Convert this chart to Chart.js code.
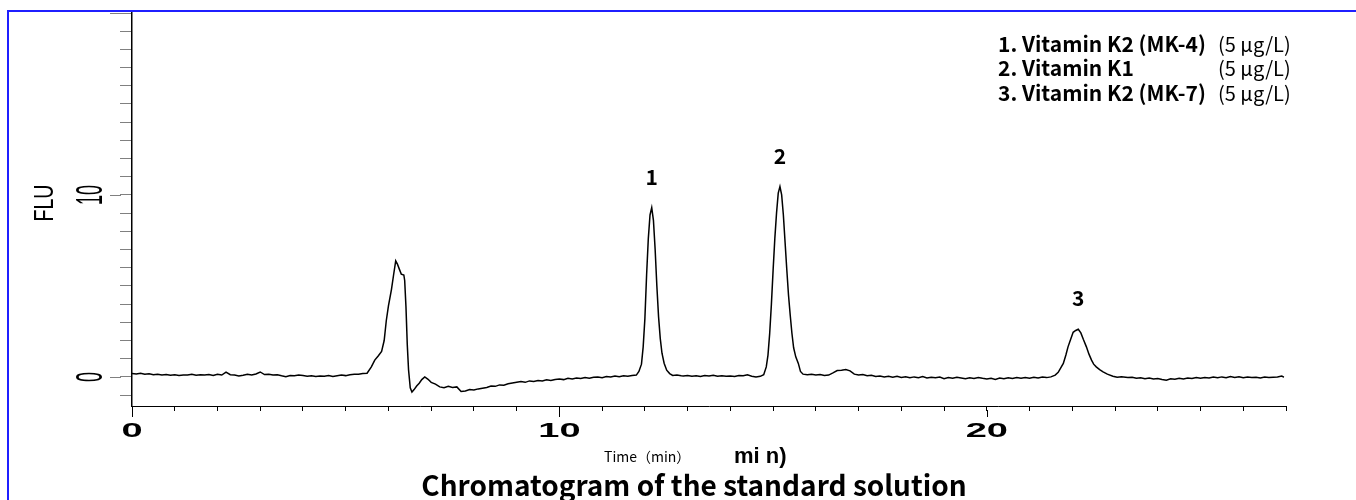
<!DOCTYPE html>
<html>
<head>
<meta charset="utf-8">
<script src="https://cdn.jsdelivr.net/npm/chart.js@4.4.1/dist/chart.umd.min.js"></script>
<style>
  html, body { margin: 0; padding: 0; background: #fff; }
  #wrap { position: relative; width: 1356px; height: 500px; overflow: hidden; }
  #frame { position: absolute; left: 7px; top: 10px; width: 1400px; height: 600px;
           border-left: 2px solid #1f1fff; border-top: 2px solid #1f1fff; }
  canvas { position: absolute; left: 0; top: 0; }
</style>
</head>
<body>
<div id="wrap">
  <div id="frame"></div>
  <canvas id="chromChart" width="1356" height="500"></canvas>
</div>
<script>
// retention time (min)
const times = [
  0.0, 0.1, 0.2, 0.3, 0.4, 0.5, 0.6, 0.7, 0.8, 0.9, 1.0, 1.1, 1.2, 1.3, 1.4, 1.5, 1.6, 1.7, 1.8, 1.9,
  2.0, 2.1, 2.2, 2.3, 2.4, 2.5, 2.6, 2.7, 2.8, 2.9, 3.0, 3.1, 3.2, 3.3, 3.4, 3.5, 3.6, 3.7, 3.8, 3.9,
  4.0, 4.1, 4.2, 4.3, 4.4, 4.5, 4.6, 4.7, 4.8, 4.9, 5.0, 5.1, 5.2, 5.3, 5.4, 5.5,
  5.6, 5.68, 5.76, 5.84, 5.9, 5.95, 6.0, 6.07, 6.12, 6.17, 6.21, 6.25, 6.3, 6.36, 6.38, 6.41, 6.44, 6.47,
  6.51, 6.55, 6.6, 6.66, 6.72, 6.78, 6.85, 6.92, 7.0, 7.1, 7.2, 7.3, 7.4, 7.5, 7.6, 7.7, 7.8, 7.9,
  8.0, 8.1, 8.2, 8.3, 8.4, 8.5, 8.6, 8.7, 8.8, 8.9, 9.0, 9.1, 9.2, 9.3, 9.4, 9.5, 9.6, 9.7, 9.8, 9.9,
  10.0, 10.1, 10.2, 10.3, 10.4, 10.5, 10.6, 10.7, 10.8, 10.9, 11.0, 11.1, 11.2, 11.3, 11.4, 11.5, 11.6, 11.7, 11.8, 11.86,
  11.92, 11.96, 12.0, 12.04, 12.08, 12.12, 12.16, 12.2, 12.24, 12.28, 12.32, 12.36, 12.4, 12.45, 12.51, 12.58, 12.65, 12.75, 12.85,
  12.9, 13.0, 13.1, 13.2, 13.3, 13.4, 13.5, 13.6, 13.7, 13.8, 13.9, 14.0, 14.1, 14.2, 14.3, 14.4, 14.5, 14.6, 14.7, 14.78,
  14.84, 14.88, 14.92, 14.96, 15.0, 15.04, 15.08, 15.12, 15.16, 15.2, 15.24, 15.28, 15.32, 15.36, 15.4, 15.44, 15.48, 15.53, 15.59, 15.64, 15.7,
  15.8, 15.9, 16.0, 16.1, 16.2, 16.3, 16.4, 16.5, 16.6, 16.7, 16.8, 16.9, 17.0, 17.1, 17.2, 17.3, 17.4, 17.5, 17.6, 17.7, 17.8, 17.9,
  18.0, 18.1, 18.2, 18.3, 18.4, 18.5, 18.6, 18.7, 18.8, 18.9, 19.0, 19.1, 19.2, 19.3, 19.4, 19.5, 19.6, 19.7, 19.8, 19.9,
  20.0, 20.1, 20.2, 20.3, 20.4, 20.5, 20.6, 20.7, 20.8, 20.9, 21.0, 21.1, 21.2, 21.3, 21.4, 21.5, 21.6, 21.67,
  21.73, 21.79, 21.85, 21.9, 21.96, 22.02, 22.08, 22.14, 22.2, 22.26, 22.33, 22.39, 22.45, 22.5, 22.56, 22.64, 22.72, 22.82, 22.95,
  23.05, 23.15, 23.3, 23.4, 23.5, 23.6, 23.7, 23.8, 23.9, 24.0, 24.1, 24.2, 24.3, 24.4, 24.5, 24.6, 24.7, 24.8, 24.9,
  25.0, 25.1, 25.2, 25.3, 25.4, 25.5, 25.6, 25.7, 25.8, 25.9, 26.0, 26.1, 26.2, 26.3, 26.4, 26.5, 26.6, 26.7, 26.8, 26.9, 26.95
];

// fluorescence signal (FLU)
const flu = [
  0.18, 0.16, 0.20, 0.14, 0.17, 0.12, 0.15, 0.10, 0.13, 0.09, 0.12, 0.08, 0.11, 0.10, 0.14, 0.09, 0.12, 0.10, 0.13, 0.08,
  0.15, 0.10, 0.26, 0.12, 0.10, 0.05, 0.09, 0.14, 0.10, 0.16, 0.27, 0.13, 0.15, 0.10, 0.12, 0.06, 0.01, 0.08, 0.06, 0.10,
  0.07, 0.04, 0.06, 0.02, 0.05, 0.03, 0.07, 0.02, 0.06, 0.10, 0.07, 0.12, 0.15, 0.14, 0.18, 0.20,
  0.55, 0.92, 1.15, 1.40, 2.00, 3.10, 3.90, 4.80, 5.60, 6.38, 6.20, 5.95, 5.65, 5.60, 5.30, 3.85, 1.80, 0.40,
  -0.60, -0.83, -0.70, -0.50, -0.35, -0.15, 0.00, -0.12, -0.30, -0.40, -0.55, -0.60, -0.52, -0.58, -0.55, -0.80, -0.78, -0.70,
  -0.72, -0.66, -0.62, -0.58, -0.50, -0.52, -0.44, -0.46, -0.38, -0.34, -0.30, -0.26, -0.30, -0.22, -0.25, -0.20, -0.22, -0.16, -0.20, -0.14,
  -0.12, -0.15, -0.08, -0.11, -0.06, -0.09, -0.04, -0.07, -0.02, 0.00, -0.04, 0.02, 0.00, 0.05, 0.01, 0.06, 0.03, 0.08, 0.10, 0.30,
  0.70, 1.65, 3.20, 5.60, 7.60, 8.90, 9.30, 8.60, 7.00, 5.00, 3.30, 2.10, 1.30, 0.75, 0.37, 0.18, 0.08, 0.10, 0.06,
  0.05, 0.08, 0.04, 0.06, 0.02, 0.07, 0.05, 0.09, 0.04, 0.06, 0.03, 0.05, 0.02, 0.08, 0.06, 0.11, 0.04, -0.01, 0.03, 0.12,
  0.55, 1.20, 2.39, 4.00, 5.87, 7.60, 9.00, 10.10, 10.46, 10.00, 8.90, 7.40, 5.90, 4.50, 3.40, 2.40, 1.60, 1.10, 0.74, 0.30, 0.15,
  0.12, 0.14, 0.10, 0.13, 0.08, 0.10, 0.22, 0.35, 0.37, 0.40, 0.33, 0.15, 0.10, 0.13, 0.06, 0.09, 0.02, 0.05, 0.00, 0.04, -0.02, 0.03,
  -0.03, 0.01, -0.05, 0.00, -0.04, 0.02, -0.06, -0.02, -0.05, -0.01, -0.10, -0.04, -0.08, -0.02, -0.06, -0.10, -0.05, -0.09, -0.03, -0.08,
  -0.12, -0.07, -0.14, -0.06, -0.10, -0.05, -0.09, -0.04, -0.08, -0.03, -0.07, -0.02, -0.06, -0.01, -0.04, 0.00, 0.10, 0.25,
  0.50, 0.74, 1.20, 1.65, 2.05, 2.45, 2.55, 2.62, 2.42, 2.05, 1.65, 1.25, 0.92, 0.70, 0.55, 0.40, 0.28, 0.15, 0.04,
  -0.02, 0.01, -0.04, -0.02, -0.08, -0.05, -0.10, -0.06, -0.12, -0.09, -0.14, -0.18, -0.10, -0.13, -0.08, -0.11, -0.06, -0.09, -0.04,
  -0.08, -0.03, -0.06, -0.01, -0.05, 0.00, -0.04, 0.02, -0.03, 0.01, -0.05, -0.01, -0.04, -0.02, -0.06, -0.01, -0.04, -0.02, 0.00, 0.05, -0.02
];

const xTicks = [0, 1, 2, 3, 4, 5, 6, 7, 8, 9, 10, 11, 12, 13, 14, 15, 16, 17, 18, 19, 20, 21, 22, 23, 24, 25, 26, 27];
const xLabels = [0, 10, 20];
const yTicks = [-1, 0, 1, 2, 3, 4, 5, 6, 7, 8, 9, 10, 11, 12, 13, 14, 15, 16, 17, 18, 19, 20];
const yLabels = [0, 10];
const majorTicks = [0, 10, 20];

const peakNames = ["1", "2", "3"];
const peakTimes = [12.16, 15.16, 22.14];
const legendNames = ["1. Vitamin K2 (MK-4)", "2. Vitamin K1", "3. Vitamin K2 (MK-7)"];
const legendConc = ["(5 µg/L)", "(5 µg/L)", "(5 µg/L)"];

const JP = '"Noto Sans CJK JP", "Noto Sans", sans-serif';
const LIB = '"Liberation Sans", Arial, sans-serif';

function drawText(ctx, str, x, y, font, o) {
    o = o || {};
    ctx.save();
    ctx.translate(x, y);
    if (o.rot) ctx.rotate(o.rot);
    ctx.scale(o.sx || 1, o.sy || 1);
    ctx.font = font;
    ctx.fillStyle = o.color || "#000";
    ctx.textAlign = o.align || "left";
    ctx.textBaseline = o.baseline || "alphabetic";
    ctx.fillText(str, 0, 0);
    ctx.restore();
}

/* ---- everything the axes can't do by themselves ---- */
const decorations = {
    id: "decorations",
    afterDraw(chart) {
        const ctx = chart.ctx;
        const xs = chart.scales.x, ys = chart.scales.y;
        const area = chart.chartArea;

        // longer major ticks
        ctx.save();
        ctx.lineWidth = 1;
        ctx.strokeStyle = "#808080";
        majorTicks.forEach(v => {
            const py = Math.round(ys.getPixelForValue(v)) + 0.5;
            ctx.beginPath(); ctx.moveTo(area.left - 22, py); ctx.lineTo(area.left - 11, py); ctx.stroke();
        });
        ctx.strokeStyle = "#000";
        majorTicks.forEach(v => {
            const px = Math.round(xs.getPixelForValue(v)) + 0.5;
            ctx.beginPath(); ctx.moveTo(px, area.bottom + 4); ctx.lineTo(px, area.bottom + 11); ctx.stroke();
        });
        ctx.restore();

        // y labels, tall & narrow, rotated
        yLabels.forEach(v => {
            drawText(ctx, String(v), 102, ys.getPixelForValue(v), "36px " + LIB,
                     { rot: -Math.PI / 2, sx: 0.5, align: "center" });
        });
        drawText(ctx, "FLU", 53, 203, "28px " + LIB, { rot: -Math.PI / 2, sx: 0.7, align: "center" });

        // x labels, wide & bold
        xLabels.forEach(v => {
            drawText(ctx, String(v), xs.getPixelForValue(v), 437, "bold 20px " + LIB, { sx: 1.9, align: "center" });
        });

        drawText(ctx, "Time（min）", 604, 462, "14px " + JP);
        drawText(ctx, "mi n)", 734, 463, "bold 22px " + LIB);
        drawText(ctx, "Chromatogram of the standard solution", 694, 485, "bold 28px " + JP,
                 { align: "center", baseline: "middle" });

        // compound list
        legendNames.forEach((name, i) => {
            const y = 44 + i * 24.5;
            drawText(ctx, name, 998, y, "bold 21px " + JP, { baseline: "middle" });
            drawText(ctx, legendConc[i], 1218, y, "20px " + JP, { baseline: "middle" });
        });

        // peak numbers above each peak apex
        peakTimes.forEach((t, i) => {
            let best = 0;
            times.forEach((tt, j) => { if (Math.abs(tt - t) < 0.3 && flu[j] > best) best = flu[j]; });
            const px = xs.getPixelForValue(t);
            const py = ys.getPixelForValue(best);
            drawText(ctx, peakNames[i], px, py - 31, "bold 21px " + JP, { align: "center", baseline: "middle" });
        });
    }
};

new Chart(document.getElementById("chromChart"), {
    type: "line",
    data: {
        datasets: [{
            data: times.map((t, i) => ({ x: t, y: flu[i] })),
            borderColor: "#000",
            borderWidth: 1.5,
            pointRadius: 0,
            tension: 0,
            fill: false
        }]
    },
    options: {
        responsive: false,
        animation: false,
        layout: { padding: { left: 120, top: 13, right: 70, bottom: 89 } },
        plugins: { legend: { display: false }, tooltip: { enabled: false } },
        scales: {
            x: {
                type: "linear", min: 0, max: 27,
                afterBuildTicks: s => { s.ticks = xTicks.map(v => ({ value: v })); },
                ticks: { display: false },
                grid: { drawOnChartArea: false, tickLength: 5, tickColor: "#000", tickWidth: 1 },
                border: { color: "#000", width: 1 }
            },
            y: {
                min: -1.6, max: 20,
                afterBuildTicks: s => { s.ticks = yTicks.map(v => ({ value: v })); },
                ticks: { display: false },
                grid: { drawOnChartArea: false, tickLength: 12, tickColor: "#808080", tickWidth: 1 },
                border: { color: "#000", width: 1.5 }
            }
        }
    },
    plugins: [decorations]
});
</script>
</body>
</html>
